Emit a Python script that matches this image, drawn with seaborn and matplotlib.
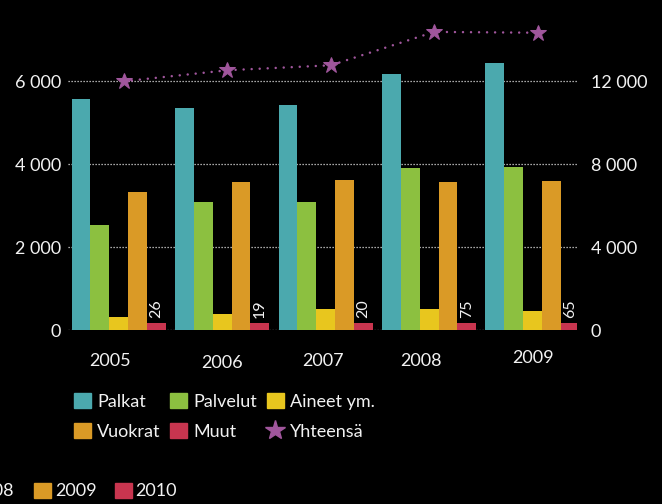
import matplotlib
matplotlib.use("Agg")
import matplotlib.pyplot as plt
import matplotlib.transforms as mtransforms
from matplotlib.patches import Patch
from matplotlib.lines import Line2D
from matplotlib.ticker import FuncFormatter
import numpy as np
import pandas as pd
import seaborn as sns

years = ["2005", "2006", "2007", "2008", "2009"]
categories = ["Palkat", "Palvelut", "Aineet ym.", "Vuokrat", "Muut"]
palkat = [5570, 5350, 5420, 6170, 6430]
palvelut = [2530, 3080, 3080, 3900, 3930]
aineet = [310, 390, 500, 500, 460]
vuokrat = [3330, 3570, 3610, 3570, 3590]
muut = [170, 170, 170, 170, 170]          # bars drawn at a visible minimum height
muut_labels = ["26", "19", "20", "75", "65"]
yhteensa = [12000, 12530, 12770, 14380, 14340]

colors = ["#4BA9AE", "#8CC040", "#E8C61E", "#DA9A26", "#C8354F"]
star_color = "#A0569C"
txt = "#F2F2F2"

df = pd.DataFrame({"year": years, "Palkat": palkat, "Palvelut": palvelut,
                   "Aineet ym.": aineet, "Vuokrat": vuokrat, "Muut": muut})
long = df.melt(id_vars="year", var_name="cat", value_name="value")

sns.set_style("dark")
plt.rcParams["font.family"] = ["Lato", "DejaVu Sans"]
plt.rcParams["text.color"] = txt

fig = plt.figure(figsize=(6.62, 5.04), dpi=100, facecolor="black")
ax = fig.add_axes([0.1027, 0.345, 0.769, 0.609])
ax.set_facecolor("black")

sns.barplot(data=long, x="year", y="value", hue="cat", hue_order=categories,
            palette=colors, width=0.91, saturation=1, ax=ax, legend=False)
for bars in ax.containers:
    for b in bars:
        b.set_edgecolor("none")

ax.bar_label(ax.containers[4], labels=muut_labels, rotation=90, padding=4,
             color=txt, fontsize=11.5)

fs = 13
ax.set_ylim(0, 7400)
ax.set_xlim(-0.49, 4.43)
ax.set_yticks([0, 2000, 4000, 6000])
fmt = FuncFormatter(lambda v, p: f"{v:,.0f}".replace(",", " "))
ax.yaxis.set_major_formatter(fmt)
ax.set_xlabel("")
ax.set_ylabel("")
ax.tick_params(axis="y", length=0, pad=5, labelsize=fs, labelcolor=txt)
ax.tick_params(axis="x", length=0, pad=16.5, labelsize=fs, labelcolor=txt)
ax.yaxis.grid(True, color="#DDDDDD", linestyle=(0, (1, 1.4)), lw=0.9)
ax.xaxis.grid(False)
ax.set_axisbelow(True)
for s in ax.spines.values():
    s.set_visible(False)

# year labels sit slightly off the group centres in the original
shift_px = [(-8.5, 0), (-0.5, -1.5), (-3, 0), (-8.5, 0), (0, 3.5)]
for lab, (dx, dy) in zip(ax.get_xticklabels(), shift_px):
    lab.set_transform(lab.get_transform() +
                      mtransforms.ScaledTranslation(dx / 100, dy / 100, fig.dpi_scale_trans))

ax2 = ax.twinx()
ax2.patch.set_visible(False)
sns.lineplot(x=np.arange(len(years)) + 0.05, y=yhteensa, ax=ax2, color=star_color,
             lw=1.8, linestyle=(0, (0.01, 3.2)), dash_capstyle="round",
             marker="*", markersize=12, markeredgecolor=star_color)
for l in ax2.lines:
    l.set_clip_on(False)
ax2.set_ylim(0, 14800)
ax2.set_yticks([0, 4000, 8000, 12000])
ax2.yaxis.set_major_formatter(fmt)
ax2.tick_params(axis="y", length=0, pad=10, labelsize=fs, labelcolor=txt)
ax2.grid(False)
for s in ax2.spines.values():
    s.set_visible(False)

handles = [Patch(color=colors[i], label=categories[i]) for i in range(5)]
star_h = Line2D([], [], marker="*", color=star_color, linestyle="None",
                markersize=15, label="Yhteensä")
order = [handles[0], handles[3], handles[1], handles[4], handles[2], star_h]
fig.legend(handles=order, ncol=3, loc="upper left",
           bbox_to_anchor=(74 / 662, 0.2202), frameon=False, fontsize=fs,
           borderpad=0, borderaxespad=0, handlelength=0.94, handleheight=0.94,
           handletextpad=0.33, columnspacing=0.55, labelspacing=0.7,
           labelcolor=txt)

# leftover legend cut at the bottom edge
fig.text(14 / 662, 1 - 491 / 504, "2008", ha="right", va="center", fontsize=fs, color=txt)
fig.legend(handles=[Patch(color=colors[3], label="2009"), Patch(color=colors[4], label="2010")],
           ncol=2, loc="center left", bbox_to_anchor=(34 / 662, 1 - 491 / 504), frameon=False,
           fontsize=fs, borderpad=0, borderaxespad=0, handlelength=0.94, handleheight=0.94,
           handletextpad=0.22, columnspacing=1.0, labelcolor=txt)

fig.savefig("out.png", dpi=100, facecolor="black")
